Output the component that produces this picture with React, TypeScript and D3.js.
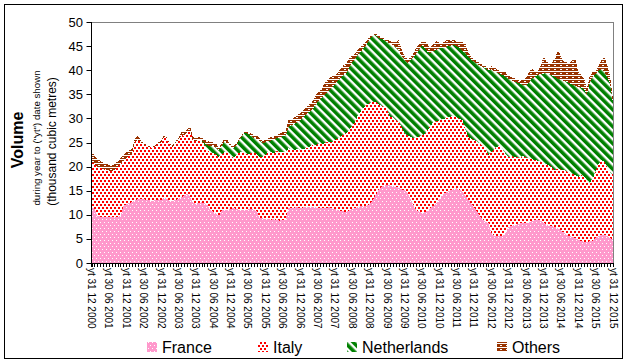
import * as d3 from 'd3';

// rolling-year volumes, monthly from yt Dec 2000 to yt Dec 2015 (thousand m3)
const france = [
  11.5,
  11.3, 9.8, 9.6, 9.6, 9.5, 9.6, 9.5, 9.4, 9.6, 9.7, 11.8, 12.2, // 2001
  12.4, 12.6, 13.0, 13.3, 13.2, 13.3, 13.1, 13.0, 12.9, 13.0, 13.2, 13.0, // 2002
  13.5, 13.3, 12.9, 12.8, 13.1, 13.3, 13.6, 14.0, 14.3, 13.8, 12.5, 12.3, // 2003
  12.4, 12.6, 12.4, 12.0, 11.0, 10.6, 10.2, 9.8, 11.0, 10.9, 11.0, 11.2, // 2004
  11.4, 11.2, 11.0, 10.9, 11.0, 11.1, 11.3, 11.0, 10.8, 9.3, 9.3, 9.1, // 2005
  9.2, 9.0, 9.1, 8.9, 8.8, 9.0, 8.9, 11.4, 11.3, 11.5, 11.6, 11.4, // 2006
  11.5, 11.6, 11.7, 11.7, 11.6, 11.4, 11.5, 11.3, 11.4, 11.6, 11.3, 11.2, // 2007
  11.0, 10.8, 10.7, 10.6, 10.9, 11.2, 11.4, 11.6, 11.8, 11.7, 11.8, 12.3, // 2008
  13.0, 14.0, 15.0, 15.8, 16.0, 16.2, 16.1, 15.9, 15.8, 15.6, 15.3, 15.1, // 2009
  14.5, 13.5, 12.2, 11.0, 10.7, 10.4, 10.5, 10.8, 11.4, 11.9, 12.4, 13.2, // 2010
  14.0, 14.5, 14.8, 15.1, 15.3, 15.5, 15.2, 14.8, 14.0, 13.2, 12.4, 11.5, // 2011
  10.8, 9.6, 9.0, 8.6, 8.3, 6.2, 5.6, 5.5, 5.6, 5.6, 6.3, 7.5, // 2012
  7.7, 7.9, 8.0, 8.2, 8.3, 8.3, 8.5, 8.7, 8.9, 8.9, 8.8, 8.4, // 2013
  7.9, 7.7, 7.6, 7.5, 7.2, 6.8, 6.3, 5.8, 5.6, 5.4, 5.2, 4.9, // 2014
  4.6, 4.4, 4.4, 4.5, 4.6, 5.2, 5.6, 5.8, 5.8, 5.6, 5.2, 4.9, // 2015
];

const italy = [
  9.5,
  9.2, 10.2, 10.2, 9.9, 9.8, 9.6, 9.5, 10.0, 10.2, 10.8, 9.4, 9.6,
  9.8, 10.0, 12.2, 12.2, 11.8, 11.3, 11.2, 11.1, 10.9, 11.2, 11.7, 12.0,
  12.7, 12.5, 11.7, 11.3, 11.8, 12.2, 12.9, 12.4, 12.9, 13.7, 13.0, 13.0,
  13.2, 12.9, 12.1, 11.4, 12.0, 12.2, 12.3, 12.2, 11.6, 12.2, 11.8, 11.0,
  10.4, 11.1, 11.9, 12.1, 11.8, 11.4, 11.5, 12.0, 11.8, 12.7, 12.7, 13.3,
  13.9, 14.0, 13.7, 14.3, 14.2, 14.1, 14.1, 12.4, 12.2, 11.9, 12.0, 12.1,
  12.1, 12.2, 12.3, 12.8, 12.7, 13.2, 13.3, 13.4, 13.6, 13.6, 13.7, 14.2,
  14.8, 15.4, 15.9, 16.4, 16.7, 17.2, 17.9, 19.1, 19.7, 20.5, 21.0, 20.9,
  20.5, 19.5, 18.0, 16.8, 16.4, 15.6, 14.3, 14.3, 13.9, 13.8, 12.9, 11.9,
  12.0, 12.7, 13.7, 15.0, 15.5, 16.0, 16.3, 16.8, 17.0, 17.3, 17.0, 16.4,
  15.8, 15.5, 15.4, 15.3, 15.3, 14.7, 14.7, 14.9, 13.8, 13.0, 13.4, 14.0,
  14.4, 15.2, 15.3, 15.2, 14.1, 16.8, 18.0, 18.6, 18.9, 17.9, 16.3, 14.5,
  14.5, 14.1, 13.9, 13.6, 13.9, 13.6, 13.2, 12.8, 12.5, 12.3, 12.2, 12.3,
  12.6, 12.5, 12.2, 11.8, 12.3, 12.6, 13.0, 13.2, 13.2, 13.1, 13.0, 13.0,
  13.6, 13.5, 12.8, 12.1, 12.9, 13.8, 14.9, 15.6, 15.2, 14.2, 13.6, 13.4,
];

const netherlands = [
  0,
  0, 0, 0, 0, 0, 0, 0, 0, 0, 0, 0, 0,
  0, 0, 0, 0, 0, 0, 0, 0, 0, 0, 0, 0,
  0, 0, 0, 0, 0, 0, 0, 0, 0, 0, 0, 0,
  0, 0, 0.3, 1.0, 1.2, 1.4, 1.5, 1.4, 1.8, 2.1, 2.0, 2.0,
  2.0, 2.2, 2.6, 3.4, 4.2, 4.3, 3.6, 3.0, 3.2, 3.4, 2.9, 2.6,
  2.1, 2.4, 2.8, 2.7, 3.0, 3.2, 3.5, 4.5, 5.1, 5.5, 5.6, 6.1,
  6.6, 7.0, 7.3, 7.2, 8.2, 8.7, 9.2, 9.9, 10.3, 10.7, 11.4, 11.6,
  12.0, 12.3, 12.4, 12.4, 13.1, 13.2, 13.1, 12.5, 12.3, 12.4, 12.7, 13.2,
  13.5, 13.8, 13.8, 13.9, 13.9, 14.0, 15.1, 15.0, 15.1, 14.8, 14.8, 15.2,
  15.0, 15.8, 16.7, 17.2, 18.0, 18.8, 17.8, 16.2, 15.2, 14.8, 14.8, 14.9,
  14.8, 14.8, 14.8, 14.7, 14.6, 14.8, 14.7, 14.3, 15.8, 16.6, 16.3, 16.3,
  16.2, 16.2, 16.4, 16.6, 17.6, 17.2, 16.2, 15.4, 14.7, 15.5, 16.0, 16.2,
  15.7, 15.6, 15.5, 15.4, 14.7, 15.0, 15.8, 16.7, 17.2, 17.8, 18.2, 18.6,
  18.9, 19.0, 19.1, 19.3, 18.7, 18.6, 18.5, 18.6, 18.5, 18.5, 18.6, 18.6,
  18.2, 18.1, 17.8, 20.9, 21.1, 20.2, 19.3, 18.8, 18.6, 18.7, 18.5, 14.9,
];

const others = [
  2.0,
  1.8, 1.6, 1.4, 1.3, 1.2, 1.2, 1.1, 1.2, 1.2, 1.2, 1.2, 1.3,
  1.2, 1.0, 0.8, 0.9, 0.6, 0.2, 0.2, 0.1, 0.2, 0.3, 0.2, 0.3,
  0.3, 0.2, 0.2, 0.3, 0.3, 0.4, 0.6, 0.8, 0.6, 0.8, 0.7, 0.6,
  0.5, 0.6, 0.7, 0.9, 0.9, 0.8, 0.7, 0.6, 0.5, 0.7, 0.6, 0.4,
  0.4, 0.3, 0.3, 0.2, 0.2, 0.3, 0.5, 0.6, 0.7, 0.6, 0.4, 0.5,
  0.7, 0.8, 0.6, 0.7, 0.8, 0.9, 0.7, 1.4, 1.2, 1.3, 1.4, 1.5,
  1.3, 1.5, 1.6, 1.5, 1.8, 2.0, 1.8, 2.2, 2.4, 2.5, 2.3, 1.8,
  1.6, 1.8, 2.0, 2.1, 1.8, 1.4, 1.0, 1.1, 1.1, 0.8, 0.6, 0.5,
  0.3, 0.3, 0.4, 0.3, 0.3, 0.6, 0.5, 0.7, 1.0, 2.1, 1.4, 0.8,
  0.8, 0.6, 0.8, 1.4, 1.2, 0.8, 1.3, 1.6, 1.0, 1.5, 1.8, 1.2,
  1.0, 1.2, 1.5, 1.0, 1.1, 0.9, 1.3, 1.8, 2.0, 0.9, 0.7, 0.5,
  0.4, 0.5, 0.3, 0.4, 0.3, 0.6, 0.9, 0.5, 0.7, 0.8, 0.9, 0.6,
  0.7, 0.8, 0.6, 0.6, 1.1, 1.6, 2.0, 2.2, 1.1, 0.8, 1.8, 3.5,
  2.4, 2.3, 2.7, 3.9, 6.0, 5.0, 4.0, 4.0, 4.2, 5.0, 5.6, 3.1,
  2.6, 2.2, 1.2, 1.3, 1.0, 0.6, 1.0, 1.8, 3.0, 2.7, 1.3, 0.6,
];

const tickLabels = [
  'yt 31 12 2000', 'yt 30 06 2001', 'yt 31 12 2001', 'yt 30 06 2002', 'yt 31 12 2002',
  'yt 30 06 2003', 'yt 31 12 2003', 'yt 30 06 2004', 'yt 31 12 2004', 'yt 30 06 2005',
  'yt 31 12 2005', 'yt 30 06 2006', 'yt 31 12 2006', 'yt 30 06 2007', 'yt 31 12 2007',
  'yt 30 06 2008', 'yt 31 12 2008', 'yt 30 06 2009', 'yt 31 12 2009', 'yt 30 06 2010',
  'yt 31 12 2010', 'yt 30 06 2011', 'yt 31 12 2011', 'yt 30 06 2012', 'yt 31 12 2012',
  'yt 30 06 2013', 'yt 31 12 2013', 'yt 30 06 2014', 'yt 31 12 2014', 'yt 30 06 2015',
  'yt 31 12 2015',
];

const seriesNames = ['France', 'Italy', 'Netherlands', 'Others'];
const yTicks = [0, 5, 10, 15, 20, 25, 30, 35, 40, 45, 50];

const FONT = '"Liberation Sans", Arial, sans-serif';

export default function App() {
  const left = 91.5;
  const right = 613;
  const top = 22;
  const bottom = 263;

  const rows = france.map((_, i) => ({
    i,
    France: france[i],
    Italy: italy[i],
    Netherlands: netherlands[i],
    Others: others[i],
  }));

  const x = d3.scaleLinear().domain([0, france.length - 1]).range([left, right]);
  const y = d3.scaleLinear().domain([0, 50]).range([bottom, top]);

  const stacked = d3.stack<any>().keys(seriesNames)(rows);
  const area = d3
    .area<any>()
    .x((d) => x(d.data.i))
    .y0((d) => y(d[0]))
    .y1((d) => y(d[1]));

  const fills = ['url(#pFrance)', 'url(#pItaly)', 'url(#pNl)', 'url(#pOthers)'];
  const legendX = [147, 258, 347, 497];

  return (
    <svg width={628} height={363} style={{ position: 'absolute', left: 0, top: 0 }} fontFamily={FONT}>
      <defs>
        <pattern id="pFrance" width={4} height={6} patternUnits="userSpaceOnUse">
          <rect width={4} height={6} fill="#ff99cc" />
          <rect x={0} y={0} width={1} height={1} fill="#ffffff" />
          <rect x={2} y={3} width={1} height={1} fill="#ffffff" />
        </pattern>
        <pattern id="pItaly" width={4} height={6} patternUnits="userSpaceOnUse">
          <rect width={4} height={6} fill="#ffffff" />
          <rect x={0} y={0} width={2} height={2} fill="#ff0000" />
          <rect x={2} y={3} width={2} height={2} fill="#ff0000" />
        </pattern>
        <pattern id="pNl" width={6} height={6} patternUnits="userSpaceOnUse" patternTransform="rotate(-45)">
          <rect width={6} height={6} fill="#ffffff" />
          <rect width={3.6} height={6} fill="#008000" />
        </pattern>
        <pattern id="pOthers" width={6} height={4} patternUnits="userSpaceOnUse">
          <rect width={6} height={4} fill="#993300" />
          <rect x={0} y={3} width={6} height={1} fill="#ffffff" />
          <rect x={2} y={1} width={2} height={1} fill="#ffffff" />
        </pattern>
      </defs>

      <rect x={0} y={0} width={628} height={363} fill="#ffffff" />
      <rect x={4.5} y={4.5} width={618} height={354} fill="none" stroke="#000" strokeWidth={1} />

      {stacked.map((s, k) => (
        <path key={seriesNames[k]} d={area(s) || ''} fill={fills[k]} shapeRendering="crispEdges" />
      ))}

      {/* plot frame */}
      <line x1={left} x2={right} y1={top + 0.5} y2={top + 0.5} stroke="#808080" />
      <line x1={right + 0.5} x2={right + 0.5} y1={top} y2={bottom} stroke="#808080" />
      <line x1={left} x2={left} y1={top} y2={bottom + 4} stroke="#000" />
      <line x1={left - 4} x2={right} y1={bottom + 0.5} y2={bottom + 0.5} stroke="#000" />

      {yTicks.map((t) => (
        <g key={t}>
          <line x1={left - 5} x2={left} y1={Math.round(y(t)) + 0.5} y2={Math.round(y(t)) + 0.5} stroke="#000" />
          <text x={83} y={y(t)} dy="0.35em" textAnchor="end" fontSize={13} fill="#000">
            {t}
          </text>
        </g>
      ))}

      {rows.map((r) => (
        <line
          key={r.i}
          x1={Math.round(x(r.i)) + 0.5}
          x2={Math.round(x(r.i)) + 0.5}
          y1={bottom}
          y2={bottom + 4}
          stroke="#000"
        />
      ))}

      {tickLabels.map((lab, j) => (
        <text
          key={lab}
          transform={`translate(${x(j * 6)},268) rotate(90)`}
          dy="0.35em"
          fontSize={10}
          fill="#000"
        >
          {lab}
        </text>
      ))}

      <text transform="translate(23,140) rotate(-90)" textAnchor="middle" fontSize={16} fontWeight="bold">
        Volume
      </text>
      <text transform="translate(40,138) rotate(-90)" textAnchor="middle" fontSize={9.7}>
        during year to ("yt") date shown
      </text>
      <text transform="translate(56,141.5) rotate(-90)" textAnchor="middle" fontSize={12}>
        (thousand cubic metres)
      </text>

      {seriesNames.map((n, k) => (
        <g key={n}>
          <rect x={legendX[k]} y={342} width={10} height={10} fill={fills[k]} />
          <text x={legendX[k] + 15} y={352.5} fontSize={16} fill="#000">
            {n}
          </text>
        </g>
      ))}
    </svg>
  );
}
